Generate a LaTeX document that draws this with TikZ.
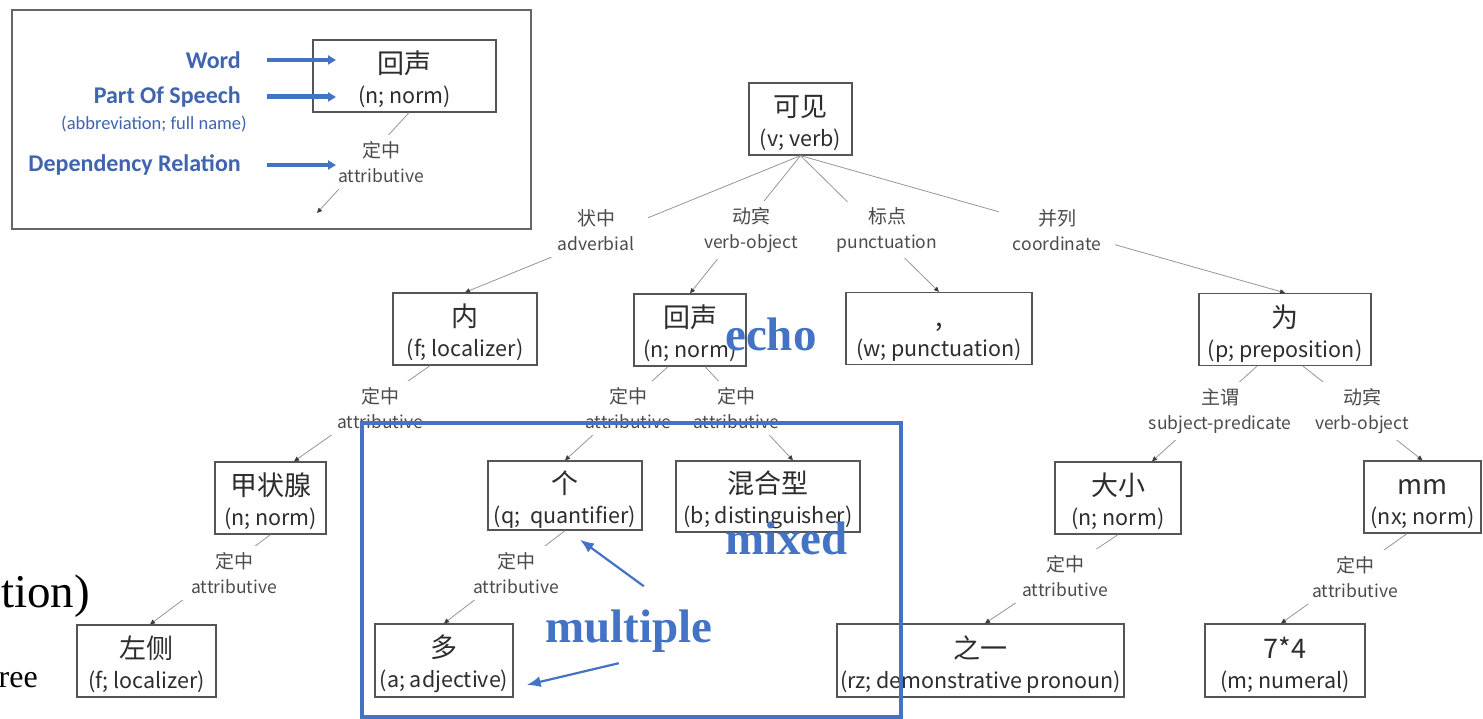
\documentclass[tikz,border=0pt]{standalone}
\usepackage{fontspec}
\setmainfont{Liberation Serif}
\newfontfamily\treefont{Noto Sans CJK SC}
\newfontfamily\legendfont{Carlito}
\usetikzlibrary{arrows.meta}

\definecolor{accent}{RGB}{68,114,196}
\definecolor{legendblue}{RGB}{64,100,175}
\definecolor{boxline}{RGB}{85,85,85}
\definecolor{ink}{RGB}{45,45,45}
\definecolor{relink}{RGB}{75,75,75}
\definecolor{edgeline}{RGB}{150,150,150}
\definecolor{tipfill}{RGB}{60,60,60}

\newcommand{\wordsize}{\fontsize{27}{30}\selectfont}
\newcommand{\possize}{\fontsize{21.5}{25}\selectfont}
\newcommand{\relsize}{\fontsize{17.5}{25}\selectfont}
% word on the first line (fixed strut so every box lines up), part of speech below
\newcommand{\entry}[2]{{\wordsize\rule{0pt}{30pt}#1}\\[5pt]#2}
% relation: Chinese name over English name
\newcommand{\relation}[2]{{\fontsize{19}{25}\selectfont #1}\\#2}

\begin{document}
\begin{tikzpicture}[x=1pt,y=-1pt,
  wordbox/.style={draw=boxline,line width=1.3pt,minimum height=72pt,inner sep=0pt,
    align=center,font=\treefont\possize,text=ink},
  rel/.style={fill=white,align=center,font=\treefont\relsize,text=relink,
    inner xsep=14pt,inner ysep=6pt},
  dep/.style={draw=edgeline,line width=0.8pt,
    -{Triangle[length=5pt,width=4.5pt,color=tipfill]}},
  legtext/.style={font=\legendfont\bfseries\fontsize{24}{28}\selectfont,
    text=legendblue,anchor=east,inner sep=0pt},
  legarrow/.style={draw=accent,line width=3.5pt,-{Triangle[length=8pt,width=9pt]}},
  gloss/.style={font=\bfseries\fontsize{47}{50}\selectfont,text=accent,
    anchor=base west,inner sep=0pt},
  pointer/.style={draw=accent,line width=2.2pt,-{Latex[length=14pt,width=11pt]}},
]
\fill[white] (0,0) rectangle (1483,719);
\useasboundingbox (0,0) rectangle (1483,719);

% ---------- legend ----------
\draw[draw=black!60,line width=1.2pt] (12,10) rectangle (531,229);
\node[wordbox,minimum width=183pt] (sample) at (404.5,76) {\entry{回声}{(n; norm)}};
\node[legtext] (wordlab) at (241,60) {Word};
\node[legtext] (poslab) at (241,97) {Part Of Speech};
\node[font=\legendfont\fontsize{18.5}{21}\selectfont,text=legendblue,anchor=east,inner sep=0pt]
  (abbrlab) at (247,124) {(abbreviation; full name)};
\node[legtext] (deplab) at (241,165) {Dependency Relation};

% ---------- dependency tree: words ----------
\node[wordbox,minimum width=103pt] (root) at (800.5,119) {\entry{可见}{(v; verb)}};
\node[wordbox,minimum width=144pt] (nei) at (465,329) {\entry{内}{(f; localizer)}};
\node[wordbox,minimum width=112pt] (huisheng) at (690,330) {\entry{回声}{(n; norm)}};
\node[wordbox,minimum width=186pt] (douhao) at (939,328.5) {\entry{,}{(w; punctuation)}};
\node[wordbox,minimum width=172pt] (wei) at (1285,329.5) {\entry{为}{(p; preposition)}};
\node[wordbox,minimum width=111pt] (jiazhuangxian) at (270.5,498) {\entry{甲状腺}{(n; norm)}};
\node[wordbox,minimum width=154pt,minimum height=69pt] (ge) at (565,495.5) {\entry{个}{(q;\ \ quantifier)}};
\node[wordbox,minimum width=184pt,minimum height=71pt] (hunhexing) at (768,496.5) {\entry{混合型}{(b; distinguisher)}};
\node[wordbox,minimum width=126pt] (daxiao) at (1118,498) {\entry{大小}{(n; norm)}};
\node[wordbox,minimum width=117pt] (mm) at (1422.5,497) {\entry{mm}{(nx; norm)}};
\node[wordbox,minimum width=139pt] (zuoce) at (146.5,661) {\entry{左侧}{(f; localizer)}};
\node[wordbox,minimum width=138pt,minimum height=73pt] (duo) at (444,660.5) {\entry{多}{(a; adjective)}};
\node[wordbox,minimum width=287pt,minimum height=73pt] (zhiyi) at (980.5,660.5) {\entry{之一}{(rz; demonstrative pronoun)}};
\node[wordbox,minimum width=160pt,minimum height=73pt] (qisi) at (1285,660.5) {\entry{7*4}{(m; numeral)}};

% ---------- dependency arcs ----------
\coordinate (samplehead) at (317,213);
\draw[dep] ([xshift=4.5pt]sample.south) -- (samplehead);
\draw[dep] (root.south) -- (nei.north);
\draw[dep] (root.south) -- (huisheng.north);
\draw[dep] (root.south) -- (douhao.north);
\draw[dep] (root.south) -- (wei.north);
\draw[dep] ([xshift=-35pt]nei.south) -- ([xshift=23.5pt]jiazhuangxian.north);
\draw[dep] ([xshift=-22pt]huisheng.south) -- (ge.north);
\draw[dep] ([xshift=15pt]huisheng.south) -- ([xshift=25pt]hunhexing.north);
\draw[dep] ([xshift=-28pt]wei.south) -- ([xshift=34pt]daxiao.north);
\draw[dep] ([xshift=18pt]wei.south) -- (mm.north);
\draw[dep] (jiazhuangxian.south) -- ([xshift=3.5pt]zuoce.north);
\draw[dep] (ge.south) -- (duo.north);
\draw[dep] (daxiao.south) -- ([xshift=4.5pt]zhiyi.north);
\draw[dep] ([xshift=-15.5pt]mm.south) -- ([xshift=-4pt]qisi.north);

% ---------- relation labels ----------
\node[rel] (relsample) at (381,162) {\relation{定中}{attributive}};
\node[rel] (rel1) at (596,230) {\relation{状中}{adverbial}};
\node[rel] (rel2) at (751,230) {\relation{动宾}{verb-object}};
\node[rel] (rel3) at (887,230) {\relation{标点}{punctuation}};
\node[rel] (rel4) at (1057,230) {\relation{并列}{coordinate}};
\node[rel] (rel5) at (380,408) {\relation{定中}{attributive}};
\node[rel] (rel6) at (628,408) {\relation{定中}{attributive}};
\node[rel] (rel7) at (736,408) {\relation{定中}{attributive}};
\node[rel] (rel8) at (1220,411) {\relation{主谓}{subject-predicate}};
\node[rel] (rel9) at (1362,411) {\relation{动宾}{verb-object}};
\node[rel] (rel10) at (234,573) {\relation{定中}{attributive}};
\node[rel] (rel11) at (516,573) {\relation{定中}{attributive}};
\node[rel] (rel12) at (1065,576) {\relation{定中}{attributive}};
\node[rel] (rel13) at (1355,577) {\relation{定中}{attributive}};

% legend pointers, drawn over the sample relation
\draw[legarrow] ([xshift=26pt]wordlab.east) -- ++(69pt,0);
\draw[legarrow,line width=5pt] ([xshift=26pt]poslab.east) -- ++(69pt,0);
\draw[legarrow] ([xshift=26pt]deplab.east) -- ++(69pt,0);

% ---------- annotations ----------
\draw[accent,line width=4pt] (361.5,423) rectangle (901,716.5);
\node[gloss] (echo) at (725,350) {echo};
\node[gloss] (mixed) at (725,554) {mixed};
\node[gloss] (multiple) at (545,642) {multiple};
\draw[pointer] ([xshift=15pt,yshift=23pt]multiple.north) -- ([xshift=15pt,yshift=-9pt]ge.south);
\draw[pointer] ([xshift=-10pt,yshift=-11pt]multiple.south) -- ([xshift=13pt,yshift=-24.5pt]duo.east);

% text running in from the left
\node[font=\fontsize{47}{50}\selectfont,anchor=base east,inner sep=0pt] (tail1) at (90,607) {tion)};
\node[font=\fontsize{32}{36}\selectfont,anchor=base east,inner sep=0pt] (tail2) at (38,687) {free};
\end{tikzpicture}
\end{document}
